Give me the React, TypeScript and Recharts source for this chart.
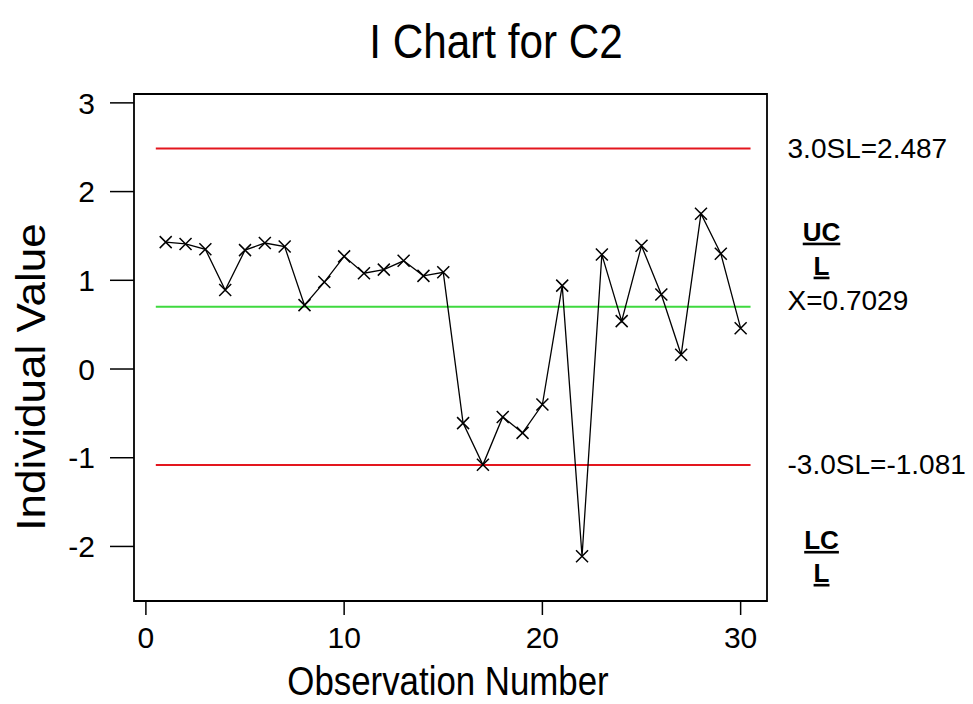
import { LineChart, Line, XAxis, YAxis, ReferenceLine, ReferenceArea } from 'recharts'

// individuals chart for column C2
const observations = [1, 2, 3, 4, 5, 6, 7, 8, 9, 10, 11, 12, 13, 14, 15, 16, 17, 18, 19, 20, 21, 22, 23, 24, 25, 26, 27, 28, 29, 30]
const individualValues = [
  1.43, 1.41, 1.35, 0.89, 1.34, 1.42, 1.38, 0.72, 0.98, 1.27,
  1.08, 1.12, 1.22, 1.05, 1.09, -0.61, -1.08, -0.54, -0.72, -0.4,
  0.94, -2.11, 1.29, 0.54, 1.39, 0.84, 0.16, 1.75, 1.3, 0.46,
]
const xTicks = [0, 10, 20, 30]
const yTicks = [-2, -1, 0, 1, 2, 3]

const UCL = 2.487
const CENTER = 0.7029
const LCL = -1.081
const LIMIT_SPAN = [0.5, 30.5]
const X_DOMAIN = [-0.6, 31.33]
const Y_DOMAIN = [-2.615, 3.1]

const FONT = '"Liberation Sans", Arial, Helvetica, sans-serif'
const RED = '#e3161e'
const GREEN = '#3fd93f'

const data = observations.map((obs, i) => ({ obs, value: individualValues[i] }))

function XMark(props: any) {
  const { cx, cy, index } = props
  if (cx == null || cy == null) return null
  const s = 6
  return (
    <path
      key={`mark-${index}`}
      d={`M${cx - s},${cy - s}L${cx + s},${cy + s}M${cx - s},${cy + s}L${cx + s},${cy - s}`}
      stroke="#000"
      strokeWidth={1.5}
      fill="none"
    />
  )
}

function limitLabel(text: string, dy = 0) {
  return ({ viewBox }: any) => (
    <text
      x={viewBox.x + viewBox.width + 37}
      y={viewBox.y + dy}
      dominantBaseline="central"
      fontFamily={FONT}
      fontSize={28}
      fill="#000"
    >
      {text}
    </text>
  )
}

function CenterLabel({ viewBox }: any) {
  const x = viewBox.x + viewBox.width + 37
  const y = viewBox.y
  return (
    <g fontFamily={FONT} fill="#000">
      <text x={x + 34} y={y - 66} textAnchor="middle" fontSize={26} fontWeight="bold" textDecoration="underline">UC</text>
      <text x={x + 34} y={y - 32} textAnchor="middle" fontSize={26} fontWeight="bold" textDecoration="underline">L</text>
      <text x={x} y={y - 6} dominantBaseline="central" fontSize={28}>X=0.7029</text>
    </g>
  )
}

function LowerLabel({ viewBox }: any) {
  const x = viewBox.x + viewBox.width + 37
  const y = viewBox.y
  return (
    <g fontFamily={FONT} fill="#000">
      <text x={x} y={y} dominantBaseline="central" fontSize={28}>-3.0SL=-1.081</text>
      <text x={x + 34} y={y + 84} textAnchor="middle" fontSize={26} fontWeight="bold" textDecoration="underline">LC</text>
      <text x={x + 34} y={y + 117} textAnchor="middle" fontSize={26} fontWeight="bold" textDecoration="underline">L</text>
    </g>
  )
}

export default function App() {
  return (
    <div style={{ position: 'absolute', left: 0, top: 0, width: 973, height: 704, background: '#fff' }}>
      <LineChart width={973} height={704} data={data} margin={{ top: 94, right: 206, bottom: 43, left: 54 }}>
        <text
          transform="translate(496, 58) scale(0.88, 1)"
          textAnchor="middle"
          fontFamily={FONT}
          fontSize={48}
          fill="#000"
        >
          I Chart for C2
        </text>
        <text
          transform="translate(448, 695) scale(0.85, 1)"
          textAnchor="middle"
          fontFamily={FONT}
          fontSize={41}
          fill="#000"
        >
          Observation Number
        </text>
        <text
          transform="translate(45, 377) rotate(-90) scale(1.1, 1)"
          textAnchor="middle"
          fontFamily={FONT}
          fontSize={40}
          fill="#000"
        >
          Individual Value
        </text>

        <XAxis
          type="number"
          dataKey="obs"
          domain={X_DOMAIN}
          ticks={xTicks}
          allowDataOverflow
          height={60}
          axisLine={false}
          tickSize={14}
          tickMargin={12}
          tickLine={{ stroke: '#000', strokeWidth: 1.5 }}
          tick={{ fill: '#000', fontSize: 30, fontFamily: FONT }}
        />
        <YAxis
          type="number"
          domain={Y_DOMAIN}
          ticks={yTicks}
          allowDataOverflow
          width={80}
          axisLine={false}
          tickSize={24}
          tickMargin={15}
          tickLine={{ stroke: '#000', strokeWidth: 1.5 }}
          tick={{ fill: '#000', fontSize: 30, fontFamily: FONT }}
        />

        <ReferenceArea
          x1={X_DOMAIN[0]}
          x2={X_DOMAIN[1]}
          y1={Y_DOMAIN[0]}
          y2={Y_DOMAIN[1]}
          fill="none"
          fillOpacity={0}
          stroke="#000"
          strokeWidth={1.8}
        />

        <ReferenceLine
          segment={[{ x: LIMIT_SPAN[0], y: UCL }, { x: LIMIT_SPAN[1], y: UCL }]}
          stroke={RED}
          strokeWidth={2}
          label={limitLabel('3.0SL=2.487')}
        />
        <ReferenceLine
          segment={[{ x: LIMIT_SPAN[0], y: CENTER }, { x: LIMIT_SPAN[1], y: CENTER }]}
          stroke={GREEN}
          strokeWidth={2}
          label={CenterLabel}
        />
        <ReferenceLine
          segment={[{ x: LIMIT_SPAN[0], y: LCL }, { x: LIMIT_SPAN[1], y: LCL }]}
          stroke={RED}
          strokeWidth={2}
          label={LowerLabel}
        />

        <Line
          dataKey="value"
          stroke="#000"
          strokeWidth={1.3}
          dot={XMark}
          activeDot={false}
          isAnimationActive={false}
        />
      </LineChart>
    </div>
  )
}
